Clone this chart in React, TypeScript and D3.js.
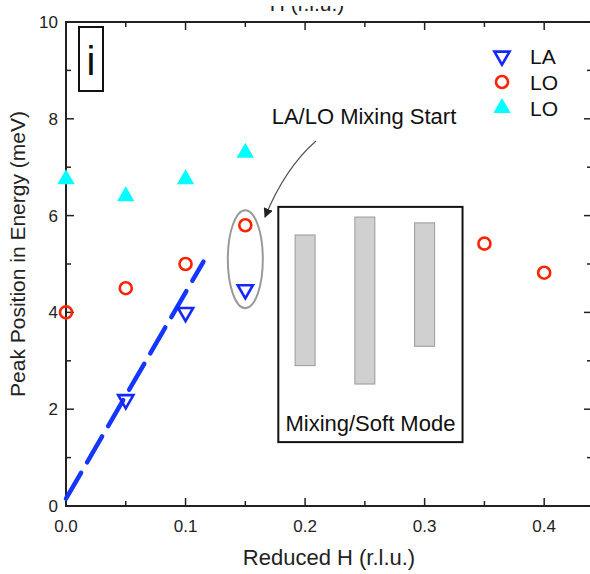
import React, { useEffect, useRef } from 'react';
import * as d3 from 'd3';

// reduced H positions and peak energies (meV)
const laH = [0.05, 0.1, 0.15];
const laE = [2.2, 4.0, 4.47];
const loH = [0.0, 0.05, 0.1, 0.15, 0.35, 0.4];
const loE = [4.0, 4.5, 5.0, 5.8, 5.42, 4.82];
const lo2H = [0.0, 0.05, 0.1, 0.15];
const lo2E = [6.75, 6.4, 6.75, 7.3];
// mixing / soft mode ranges
const mixH = [0.2, 0.25, 0.3];
const mixLow = [2.9, 2.52, 3.3];
const mixHigh = [5.6, 5.97, 5.85];
// dashed LA dispersion guide
const fitH = [0.0, 0.115];
const fitE = [0.15, 5.05];

const xTicks = [0, 0.1, 0.2, 0.3, 0.4];
const yTicks = [0, 2, 4, 6, 8, 10];

export default function App() {
  const ref = useRef<SVGSVGElement>(null);

  useEffect(() => {
    const width = 590;
    const height = 574;
    const margin = { top: 22, right: -2, bottom: 68, left: 66 };
    const font = 'Arial, "Liberation Sans", sans-serif';

    const svg = d3.select(ref.current);
    svg.selectAll('*').remove();

    const x = d3.scaleLinear().domain([0, 0.44]).range([margin.left, width - margin.right]);
    const y = d3.scaleLinear().domain([0, 10]).range([height - margin.bottom, margin.top]);

    const axisColor = '#222';

    // top axis title, cropped in the original figure
    svg.append('text')
      .attr('x', 307).attr('y', 11)
      .attr('text-anchor', 'middle')
      .attr('font-family', font).attr('font-size', 21).attr('fill', '#222')
      .text('H (r.l.u.)');
    svg.append('rect').attr('x', 0).attr('y', 0).attr('width', width).attr('height', 6).attr('fill', 'white');

    // frame
    svg.append('rect')
      .attr('x', x(0)).attr('y', y(10))
      .attr('width', x(0.44) - x(0)).attr('height', y(0) - y(10))
      .attr('fill', 'none').attr('stroke', axisColor).attr('stroke-width', 2);

    // ticks, all inward
    const xMinor = d3.range(0, 0.441, 0.05);
    const yMinor = d3.range(0, 10.01, 1);
    xMinor.forEach((h, i) => {
      const len = i % 2 === 0 ? 8 : 5;
      svg.append('line').attr('x1', x(h)).attr('x2', x(h)).attr('y1', y(0)).attr('y2', y(0) - len)
        .attr('stroke', axisColor).attr('stroke-width', 1.5);
      svg.append('line').attr('x1', x(h)).attr('x2', x(h)).attr('y1', y(10)).attr('y2', y(10) + len)
        .attr('stroke', axisColor).attr('stroke-width', 1.5);
    });
    yMinor.forEach((e, i) => {
      const len = i % 2 === 0 ? 8 : 5;
      svg.append('line').attr('x1', x(0)).attr('x2', x(0) + len).attr('y1', y(e)).attr('y2', y(e))
        .attr('stroke', axisColor).attr('stroke-width', 1.5);
      svg.append('line').attr('x1', x(0.44)).attr('x2', x(0.44) - len).attr('y1', y(e)).attr('y2', y(e))
        .attr('stroke', axisColor).attr('stroke-width', 1.5);
    });

    svg.selectAll('.xlab').data(xTicks).enter().append('text')
      .attr('x', d => x(d)).attr('y', y(0) + 26)
      .attr('text-anchor', 'middle')
      .attr('font-family', font).attr('font-size', 17).attr('fill', '#222')
      .text(d => d3.format('.1f')(d));

    svg.selectAll('.ylab').data(yTicks).enter().append('text')
      .attr('x', x(0) - 8).attr('y', d => y(d) + 6)
      .attr('text-anchor', 'end')
      .attr('font-family', font).attr('font-size', 17).attr('fill', '#222')
      .text(d => d);

    svg.append('text')
      .attr('x', 329).attr('y', 565)
      .attr('text-anchor', 'middle')
      .attr('font-family', font).attr('font-size', 22).attr('fill', '#222')
      .text('Reduced H (r.l.u.)');

    svg.append('text')
      .attr('transform', 'translate(25,254) rotate(-90)')
      .attr('text-anchor', 'middle')
      .attr('font-family', font).attr('font-size', 21).attr('fill', '#222')
      .text('Peak Position in Energy (meV)');

    // panel label
    svg.append('rect').attr('x', 79).attr('y', 27).attr('width', 24).attr('height', 64)
      .attr('fill', 'none').attr('stroke', '#111').attr('stroke-width', 2);
    svg.append('text').attr('x', 91).attr('y', 75).attr('text-anchor', 'middle')
      .attr('font-family', font).attr('font-size', 40).attr('fill', '#111').text('i');

    // inset box with mixing ranges
    svg.append('rect')
      .attr('x', x(0.1776)).attr('y', y(6.18))
      .attr('width', x(0.3317) - x(0.1776)).attr('height', y(1.32) - y(6.18))
      .attr('fill', 'white').attr('stroke', '#111').attr('stroke-width', 2);
    const barW = x(0.0167) - x(0);
    svg.selectAll('.mix').data(mixH).enter().append('rect')
      .attr('x', d => x(d) - barW / 2)
      .attr('y', (d, i) => y(mixHigh[i]))
      .attr('width', barW)
      .attr('height', (d, i) => y(mixLow[i]) - y(mixHigh[i]))
      .attr('fill', '#d0d0d0').attr('stroke', '#999').attr('stroke-width', 1);
    svg.append('text')
      .attr('x', (x(0.1776) + x(0.3317)) / 2).attr('y', 431)
      .attr('text-anchor', 'middle')
      .attr('font-family', font).attr('font-size', 22).attr('fill', '#111')
      .text('Mixing/Soft Mode');

    // dashed guide
    const line = d3.line<number>().x(d => x(fitH[d])).y(d => y(fitE[d]));
    svg.append('path').attr('d', line([0, 1]))
      .attr('fill', 'none').attr('stroke', '#1436ff').attr('stroke-width', 4.5)
      .attr('stroke-dasharray', '30,12').attr('stroke-linecap', 'round');

    // ellipse around mixing start
    svg.append('ellipse')
      .attr('cx', x(0.15)).attr('cy', y(5.1))
      .attr('rx', 17.5).attr('ry', 49)
      .attr('fill', 'none').attr('stroke', '#999').attr('stroke-width', 2);

    // annotation
    svg.append('defs').append('marker')
      .attr('id', 'arr').attr('viewBox', '0 0 10 10').attr('refX', 9).attr('refY', 5)
      .attr('markerWidth', 8).attr('markerHeight', 8).attr('orient', 'auto')
      .append('path').attr('d', 'M0,0 L10,5 L0,10 z').attr('fill', '#222');
    svg.append('path')
      .attr('d', 'M316,141 Q285,168 265,217')
      .attr('fill', 'none').attr('stroke', '#555').attr('stroke-width', 1.2)
      .attr('marker-end', 'url(#arr)');
    svg.append('text')
      .attr('x', 364).attr('y', 124)
      .attr('text-anchor', 'middle')
      .attr('font-family', font).attr('font-size', 22).attr('fill', '#111')
      .text('LA/LO Mixing Start');

    const tri = d3.symbol().type(d3.symbolTriangle).size(130);
    const triSmall = d3.symbol().type(d3.symbolTriangle).size(100);

    // cyan LO
    svg.selectAll('.lo2').data(lo2H).enter().append('path')
      .attr('d', tri)
      .attr('transform', (d, i) => `translate(${x(d)},${y(lo2E[i])})`)
      .attr('fill', '#00ffff');

    // red LO
    svg.selectAll('.lo').data(loH).enter().append('circle')
      .attr('cx', d => x(d)).attr('cy', (d, i) => y(loE[i])).attr('r', 6)
      .attr('fill', 'none').attr('stroke', '#ff2200').attr('stroke-width', 2.6);

    // blue LA
    svg.selectAll('.la').data(laH).enter().append('path')
      .attr('d', triSmall)
      .attr('transform', (d, i) => `translate(${x(d)},${y(laE[i])}) rotate(180)`)
      .attr('fill', 'none').attr('stroke', '#1428ff').attr('stroke-width', 2.6);

    // legend
    const lg = svg.append('g').attr('transform', 'translate(502,56)');
    lg.append('path').attr('d', triSmall).attr('transform', 'rotate(180)')
      .attr('fill', 'none').attr('stroke', '#1428ff').attr('stroke-width', 2.6);
    lg.append('circle').attr('cx', 0).attr('cy', 26).attr('r', 6)
      .attr('fill', 'none').attr('stroke', '#ff2200').attr('stroke-width', 2.6);
    lg.append('path').attr('d', tri).attr('transform', 'translate(0,52)').attr('fill', '#00ffff');
    ['LA', 'LO', 'LO'].forEach((t, i) => {
      lg.append('text').attr('x', 28).attr('y', i * 26 + 8)
        .attr('font-family', font).attr('font-size', 21).attr('fill', '#111').text(t);
    });
  }, []);

  return (
    <svg ref={ref} width={590} height={574}
      style={{ position: 'absolute', left: 0, top: 0, background: 'white' }} />
  );
}
